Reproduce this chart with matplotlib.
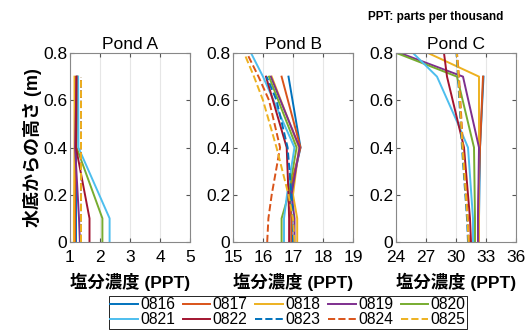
import numpy as np
import matplotlib
matplotlib.use('Agg')
import matplotlib.pyplot as plt

plt.rcParams['font.family'] = ['Liberation Sans', 'Noto Sans CJK JP', 'DejaVu Sans']

dates = ['0816', '0817', '0818', '0819', '0820', '0821', '0822', '0823', '0824', '0825']
colors = ['#0072BD', '#D95319', '#EDB120', '#7E2F8E', '#77AC30', '#4DBEEE', '#A2142F',
          '#0072BD', '#D95319', '#EDB120']
styles = ['-'] * 7 + ['--'] * 3
nan = np.nan

# Pond A: salinity (PPT) at each height above bottom (m)
depth_a = [0, 0.1, 0.4, 0.7]
pond_a = [
    [1.20, 1.20, 1.20, 1.20],
    [1.17, 1.17, 1.17, 1.17],
    [1.13, 1.13, 1.15, 1.15],
    [1.33, 1.30, 1.17, 1.22],
    [2.08, 2.08, 1.22, 1.25],
    [2.32, 2.32, 1.28, 1.27],
    [1.65, 1.65, 1.20, 1.22],
    [1.35, 1.35, 1.35, 1.35],
    [1.37, 1.37, 1.37, 1.37],
    [1.38, 1.38, 1.38, 1.38],
]

# Pond B
depth_b = [0, 0.1, 0.2, 0.4, 0.6, 0.7, 0.8]
pond_b = [
    [16.95, 16.95, 16.90, 17.25, nan, 16.85, nan],
    [16.95, 16.95, 16.85, 17.25, nan, 16.62, nan],
    [17.14, 17.14, 17.00, 17.20, nan, 16.29, nan],
    [17.05, 17.05, 16.95, 17.22, nan, 16.26, nan],
    [16.62, 16.62, 16.85, 17.12, nan, 16.20, nan],
    [16.70, 16.70, 16.80, 17.05, nan, 16.00, 15.60],
    [16.87, 16.87, 16.85, 16.79, nan, 16.10, nan],
    [17.00, 17.00, 16.95, 16.82, 16.45, 16.12, nan],
    [16.14, 16.18, 16.29, 16.57, 16.20, 15.85, 15.46],
    [17.05, 17.00, 16.85, 16.45, 16.00, 15.70, 15.37],
]

# Pond C
depth_c = [0, 0.1, 0.4, 0.5, 0.7, 0.8]
pond_c = [
    [32.3, 32.3, 32.4, nan, 32.75, nan],
    [32.2, 32.2, 32.4, nan, 32.70, nan],
    [32.3, 32.3, 32.3, nan, 32.30, 27.2],
    [32.2, 32.2, 32.3, nan, 30.70, 24.4],
    [31.9, 31.9, 31.8, nan, 30.10, 24.05],
    [31.7, 31.7, 31.2, 30.2, 28.10, 25.7],
    [31.5, 31.4, 30.8, nan, 29.10, 28.8],
    [31.2, 31.1, 30.6, nan, 30.20, 30.05],
    [31.3, 31.2, 30.7, nan, 30.30, 30.10],
    [31.25, 31.15, 30.65, nan, 30.25, 30.08],
]

panels = [
    ('Pond A', depth_a, pond_a, [1, 2, 3, 4, 5]),
    ('Pond B', depth_b, pond_b, [15, 16, 17, 18, 19]),
    ('Pond C', depth_c, pond_c, [24, 27, 30, 33, 36]),
]
lefts = [70 / 531, 233 / 531, 396 / 531]

fig = plt.figure(figsize=(5.31, 3.34), dpi=100)
handles = []
for (title, depth, data, xt), left in zip(panels, lefts):
    ax = fig.add_axes([left, 1 - 242 / 334, 120 / 531, 189 / 334])
    for i, vals in enumerate(data):
        v = np.array(vals, dtype=float)
        d = np.array(depth, dtype=float)
        ok = ~np.isnan(v)
        ln, = ax.plot(v[ok], d[ok], color=colors[i], ls=styles[i], lw=1.4)
        if title == 'Pond A':
            handles.append(ln)
    ax.set_xlim(xt[0], xt[-1])
    ax.set_ylim(0, 0.8)
    ax.set_xticks(xt)
    ax.set_yticks([0, 0.2, 0.4, 0.6, 0.8])
    ax.set_yticklabels(['0', '0.2', '0.4', '0.6', '0.8'])
    ax.grid(axis='x', color='#e6e6e6', lw=0.8)
    ax.set_axisbelow(True)
    ax.tick_params(direction='in', labelsize=12.5, length=3, color='#555555',
                   top=True, right=True)
    ax.tick_params(axis='x', pad=6)
    ax.tick_params(axis='y', pad=2)
    for s in ax.spines.values():
        s.set_color('#888888')
    ax.set_title(title, fontsize=12.5, pad=3)
    ax.set_xlabel('塩分濃度 (PPT)', fontsize=12.5, fontweight='bold', labelpad=5)
    if title == 'Pond A':
        ax.set_ylabel('水底からの高さ (m)', fontsize=13, fontweight='bold', labelpad=1)

fig.text(436 / 531, 1 - 17 / 334, 'PPT: parts per thousand', fontsize=8.5,
         fontweight='bold', ha='center', va='center')

# legend is filled row by row, as in the reference
order = [0, 5, 1, 6, 2, 7, 3, 8, 4, 9]
leg = fig.legend([handles[k] for k in order], [dates[k] for k in order], ncol=5,
                 loc='lower center', bbox_to_anchor=(288 / 531, -0.008), fontsize=11.3,
                 handlelength=1.75, handletextpad=0.15, columnspacing=0.5,
                 labelspacing=0.0, borderpad=0.1, fancybox=False,
                 edgecolor='black', framealpha=1)
leg.get_frame().set_linewidth(0.6)

fig.savefig('out.png', dpi=100)
